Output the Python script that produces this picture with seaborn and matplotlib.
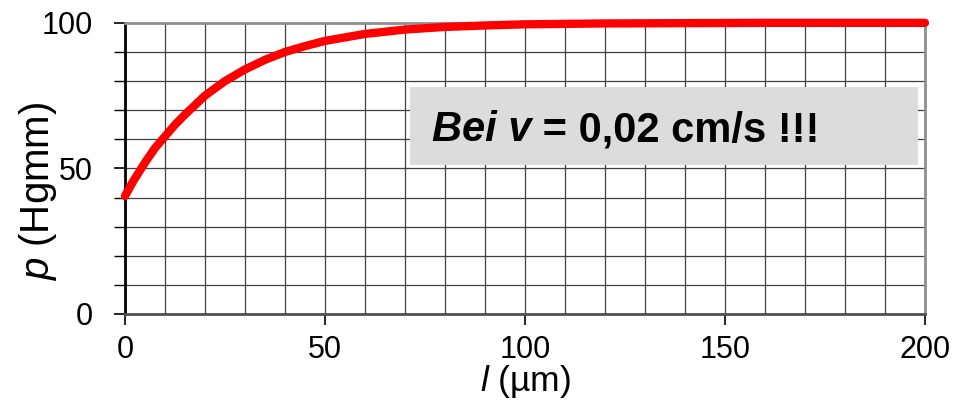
import matplotlib
matplotlib.use("Agg")
import matplotlib.pyplot as plt
import seaborn as sns
import pandas as pd
from matplotlib.patches import Rectangle
from matplotlib.ticker import MultipleLocator

# data
length_um = [0, 2, 5, 7.5, 10, 12.5, 15, 20, 25, 30, 35, 40, 45, 50, 60, 70, 80, 90, 100, 120, 140, 160, 180, 200]
pressure = [40.5, 45.5, 52, 57, 61, 65, 68.5, 75, 80, 84, 87.3, 90, 92, 93.8, 96.2, 97.7, 98.6, 99.1, 99.5, 99.8, 99.9, 100, 100, 100]
x_ticks = [0, 50, 100, 150, 200]
y_ticks = [0, 50, 100]
note_italic = "Bei v"
note_rest = " = 0,02 cm/s !!!"

sns.set_theme(style="white")
plt.rcParams['font.family'] = ['Liberation Sans', 'DejaVu Sans']
plt.rcParams['mathtext.fontset'] = 'custom'
plt.rcParams['mathtext.rm'] = 'Liberation Sans'
plt.rcParams['mathtext.it'] = 'Liberation Sans:italic'
plt.rcParams['text.color'] = 'black'
plt.rcParams['axes.labelcolor'] = 'black'
plt.rcParams['xtick.color'] = 'black'
plt.rcParams['ytick.color'] = 'black'

df = pd.DataFrame({"l": length_um, "p": pressure})

fig = plt.figure(figsize=(9.63, 4.01), dpi=100)
ax = fig.add_axes([0.1298, 0.217, 0.9605 - 0.1298, 0.943 - 0.217])

ax.set_xlim(0, 200)
ax.set_ylim(0, 100)
ax.xaxis.set_minor_locator(MultipleLocator(10))
ax.yaxis.set_minor_locator(MultipleLocator(10))
ax.set_xticks(x_ticks)
ax.set_yticks(y_ticks)
ax.grid(which='both', color='#404040', linewidth=0.9)
ax.set_axisbelow(True)

sns.lineplot(data=df, x="l", y="p", ax=ax, color='#ff0000', linewidth=6, clip_on=False, zorder=5)

ax.tick_params(axis='both', which='major', direction='out', length=8, width=1.2,
               labelsize=22, labelcolor='black', bottom=True, left=True)
ax.tick_params(axis='x', which='major', pad=7)
ax.tick_params(axis='y', which='major', pad=15)
ax.tick_params(axis='y', which='minor', direction='out', length=8, width=1.0, left=True, color='black')
ax.tick_params(axis='x', which='minor', length=0)

for s in ['top', 'right']:
    ax.spines[s].set_color('#909090')
    ax.spines[s].set_linewidth(2)
ax.spines['left'].set_color('black')
ax.spines['left'].set_linewidth(2)
ax.spines['bottom'].set_color('#505050')
ax.spines['bottom'].set_linewidth(2)

ax.set_xlabel(r"$l$ (µm)", fontsize=25.5)
ax.xaxis.set_label_coords(0.5, -0.168)
ax.set_ylabel(r"$p$ (Hgmm)", fontsize=29)
ax.yaxis.set_label_coords(-0.083, 0.42)

ax.add_patch(Rectangle((71.25, 51.2), 198.25 - 71.25, 77.9 - 51.2, facecolor='#dcdcdc',
                       edgecolor='none', zorder=3))
t1 = ax.text(76.75, 59.4, note_italic, fontsize=30, fontweight='bold', fontstyle='italic',
             va='baseline', ha='left', zorder=4, color='black')
ax.annotate(note_rest, xy=(1, 0), xycoords=t1, va='bottom', ha='left', fontsize=30,
            fontweight='bold', zorder=4, color='black')

fig.savefig("out.png", dpi=100)
